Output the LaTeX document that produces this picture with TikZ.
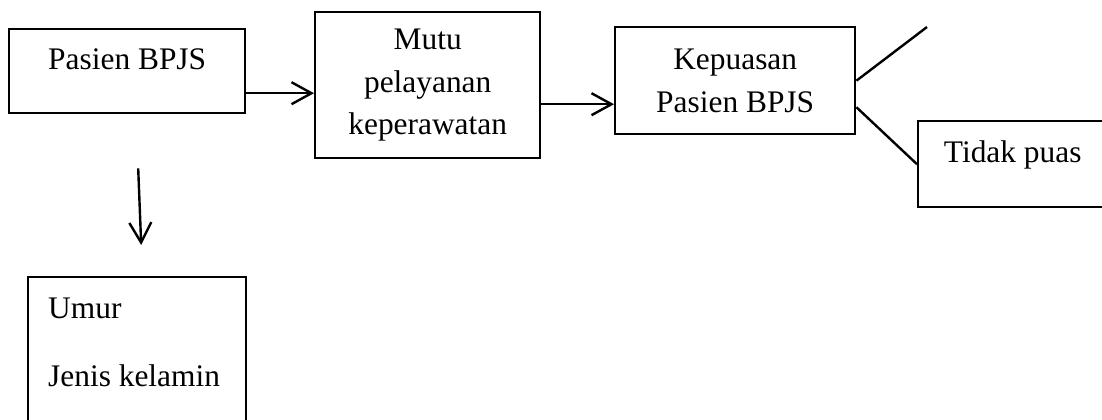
\documentclass[tikz,border=0pt]{standalone}
\usepackage{fontspec}
\setmainfont{Liberation Serif}
\usetikzlibrary{arrows.meta}
\begin{document}
\begin{tikzpicture}[x=0.5pt, y=-0.5pt,
    font=\fontsize{15.7}{21.25}\selectfont,
    box/.style={draw, line width=1.2pt, inner sep=0pt, anchor=north west},
    arr/.style={-{Straight Barb[length=10pt, width=11pt]}, line width=1.2pt}]
    \useasboundingbox (0, 0) rectangle (1102, 419);
    % kotak
    \node[box, minimum width=118pt, text height=20pt, text depth=22pt] (pasien) at (8, 28) {Pasien BPJS};
    \node[box, minimum width=112.5pt, minimum height=73pt, align=center] (mutu) at (314, 11) {Mutu\\pelayanan\\keperawatan};
    \node[box, minimum width=120pt, minimum height=53.5pt, align=center] (puas) at (614, 26) {Kepuasan\\Pasien BPJS};
    \node[box, minimum width=94.5pt, text height=20.5pt, text depth=22.5pt] (tidak) at (917, 120) {Tidak puas};
    \node[box] (umur) at (27, 276) {\parbox[c][82pt][t]{109pt}{\vspace*{10.5pt}\hspace*{10pt}Umur\\[12.75pt]\hspace*{10pt}Jenis kelamin}};
    \coordinate (cabang) at (927, 27);
    % panah
    \draw[arr] ([yshift=-11pt]pasien.east) -- ([yshift=-4pt]mutu.west);
    \draw[arr] ([yshift=-9.5pt]mutu.east) -- ([yshift=-11.75pt]puas.west);
    \draw[arr] ([xshift=5.5pt, yshift=-27pt]pasien.south) -- ([xshift=2pt, yshift=15.5pt]umur.north);
    \draw[line width=1.2pt] (puas.east) -- (cabang);
    \draw[line width=1.2pt] ([yshift=-13.25pt]puas.east) -- (tidak.west);
\end{tikzpicture}
\end{document}
